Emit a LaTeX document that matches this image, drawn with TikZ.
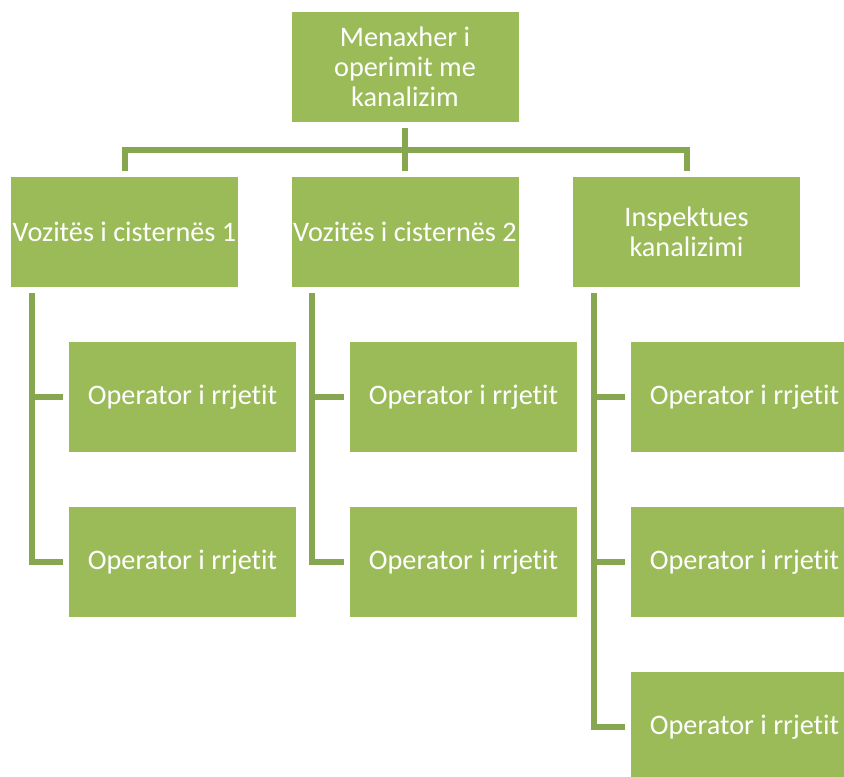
\documentclass[tikz,border=0pt]{standalone}
\usepackage{fontspec}
\setmainfont[Ligatures={NoCommon}]{Carlito}
\usepackage{xcolor}
\usetikzlibrary{positioning, calc}
\definecolor{LeafGreen}{HTML}{9BBB59}
\definecolor{StemGreen}{HTML}{86A64F}

\begin{document}
\begin{tikzpicture}[
    x=0.75pt, y=-0.75pt,
    unit/.style={rectangle, fill=LeafGreen, minimum width=170.25pt, minimum height=82.5pt,
                 inner sep=0pt, align=center, text=white,
                 font=\fontsize{21.2}{22.5}\selectfont},
    link/.style={StemGreen, line width=4.5pt}
]
    \useasboundingbox (0,0) rectangle (844,777);
    \clip (0,0) rectangle (844,777);

    % Head of the chart
    \node[unit] at (405,67) (manager) {Menaxher i\\operimit me\\kanalizim};

    % Second level
    \node[unit] at (124.5,232) (driver1) {Vozitës i cisternës 1};
    \node[unit] at (405,232) (driver2) {Vozitës i cisternës 2};
    \node[unit] at (686.5,232) (inspector) {Inspektues\\kanalizimi};

    % Network operators
    \node[unit] at (182.5,397) (op11) {Operator i rrjetit};
    \node[unit] at (182.5,562) (op12) {Operator i rrjetit};
    \node[unit] at (463.5,397) (op21) {Operator i rrjetit};
    \node[unit] at (463.5,562) (op22) {Operator i rrjetit};
    \node[unit] at (744.5,397) (op31) {Operator i rrjetit};
    \node[unit] at (744.5,562) (op32) {Operator i rrjetit};
    \node[unit] at (744.5,727) (op33) {Operator i rrjetit};

    % Bus under the head
    \coordinate (bus) at (405,150);
    \draw[link, shorten <=4.5pt] (manager.south) -- (bus);
    \foreach \n in {driver1,driver2,inspector} {
        \draw[link, shorten >=4.5pt] (bus) -| (\n.north);
    }

    % Spines down to the operators
    \foreach \boss/\op in {driver1/op11, driver1/op12, driver2/op21, driver2/op22,
                           inspector/op31, inspector/op32, inspector/op33} {
        \draw[link, shorten <=4.5pt, shorten >=4.5pt]
            ([xshift=15.75pt]\boss.south west) |- (\op.west);
    }
\end{tikzpicture}
\end{document}
